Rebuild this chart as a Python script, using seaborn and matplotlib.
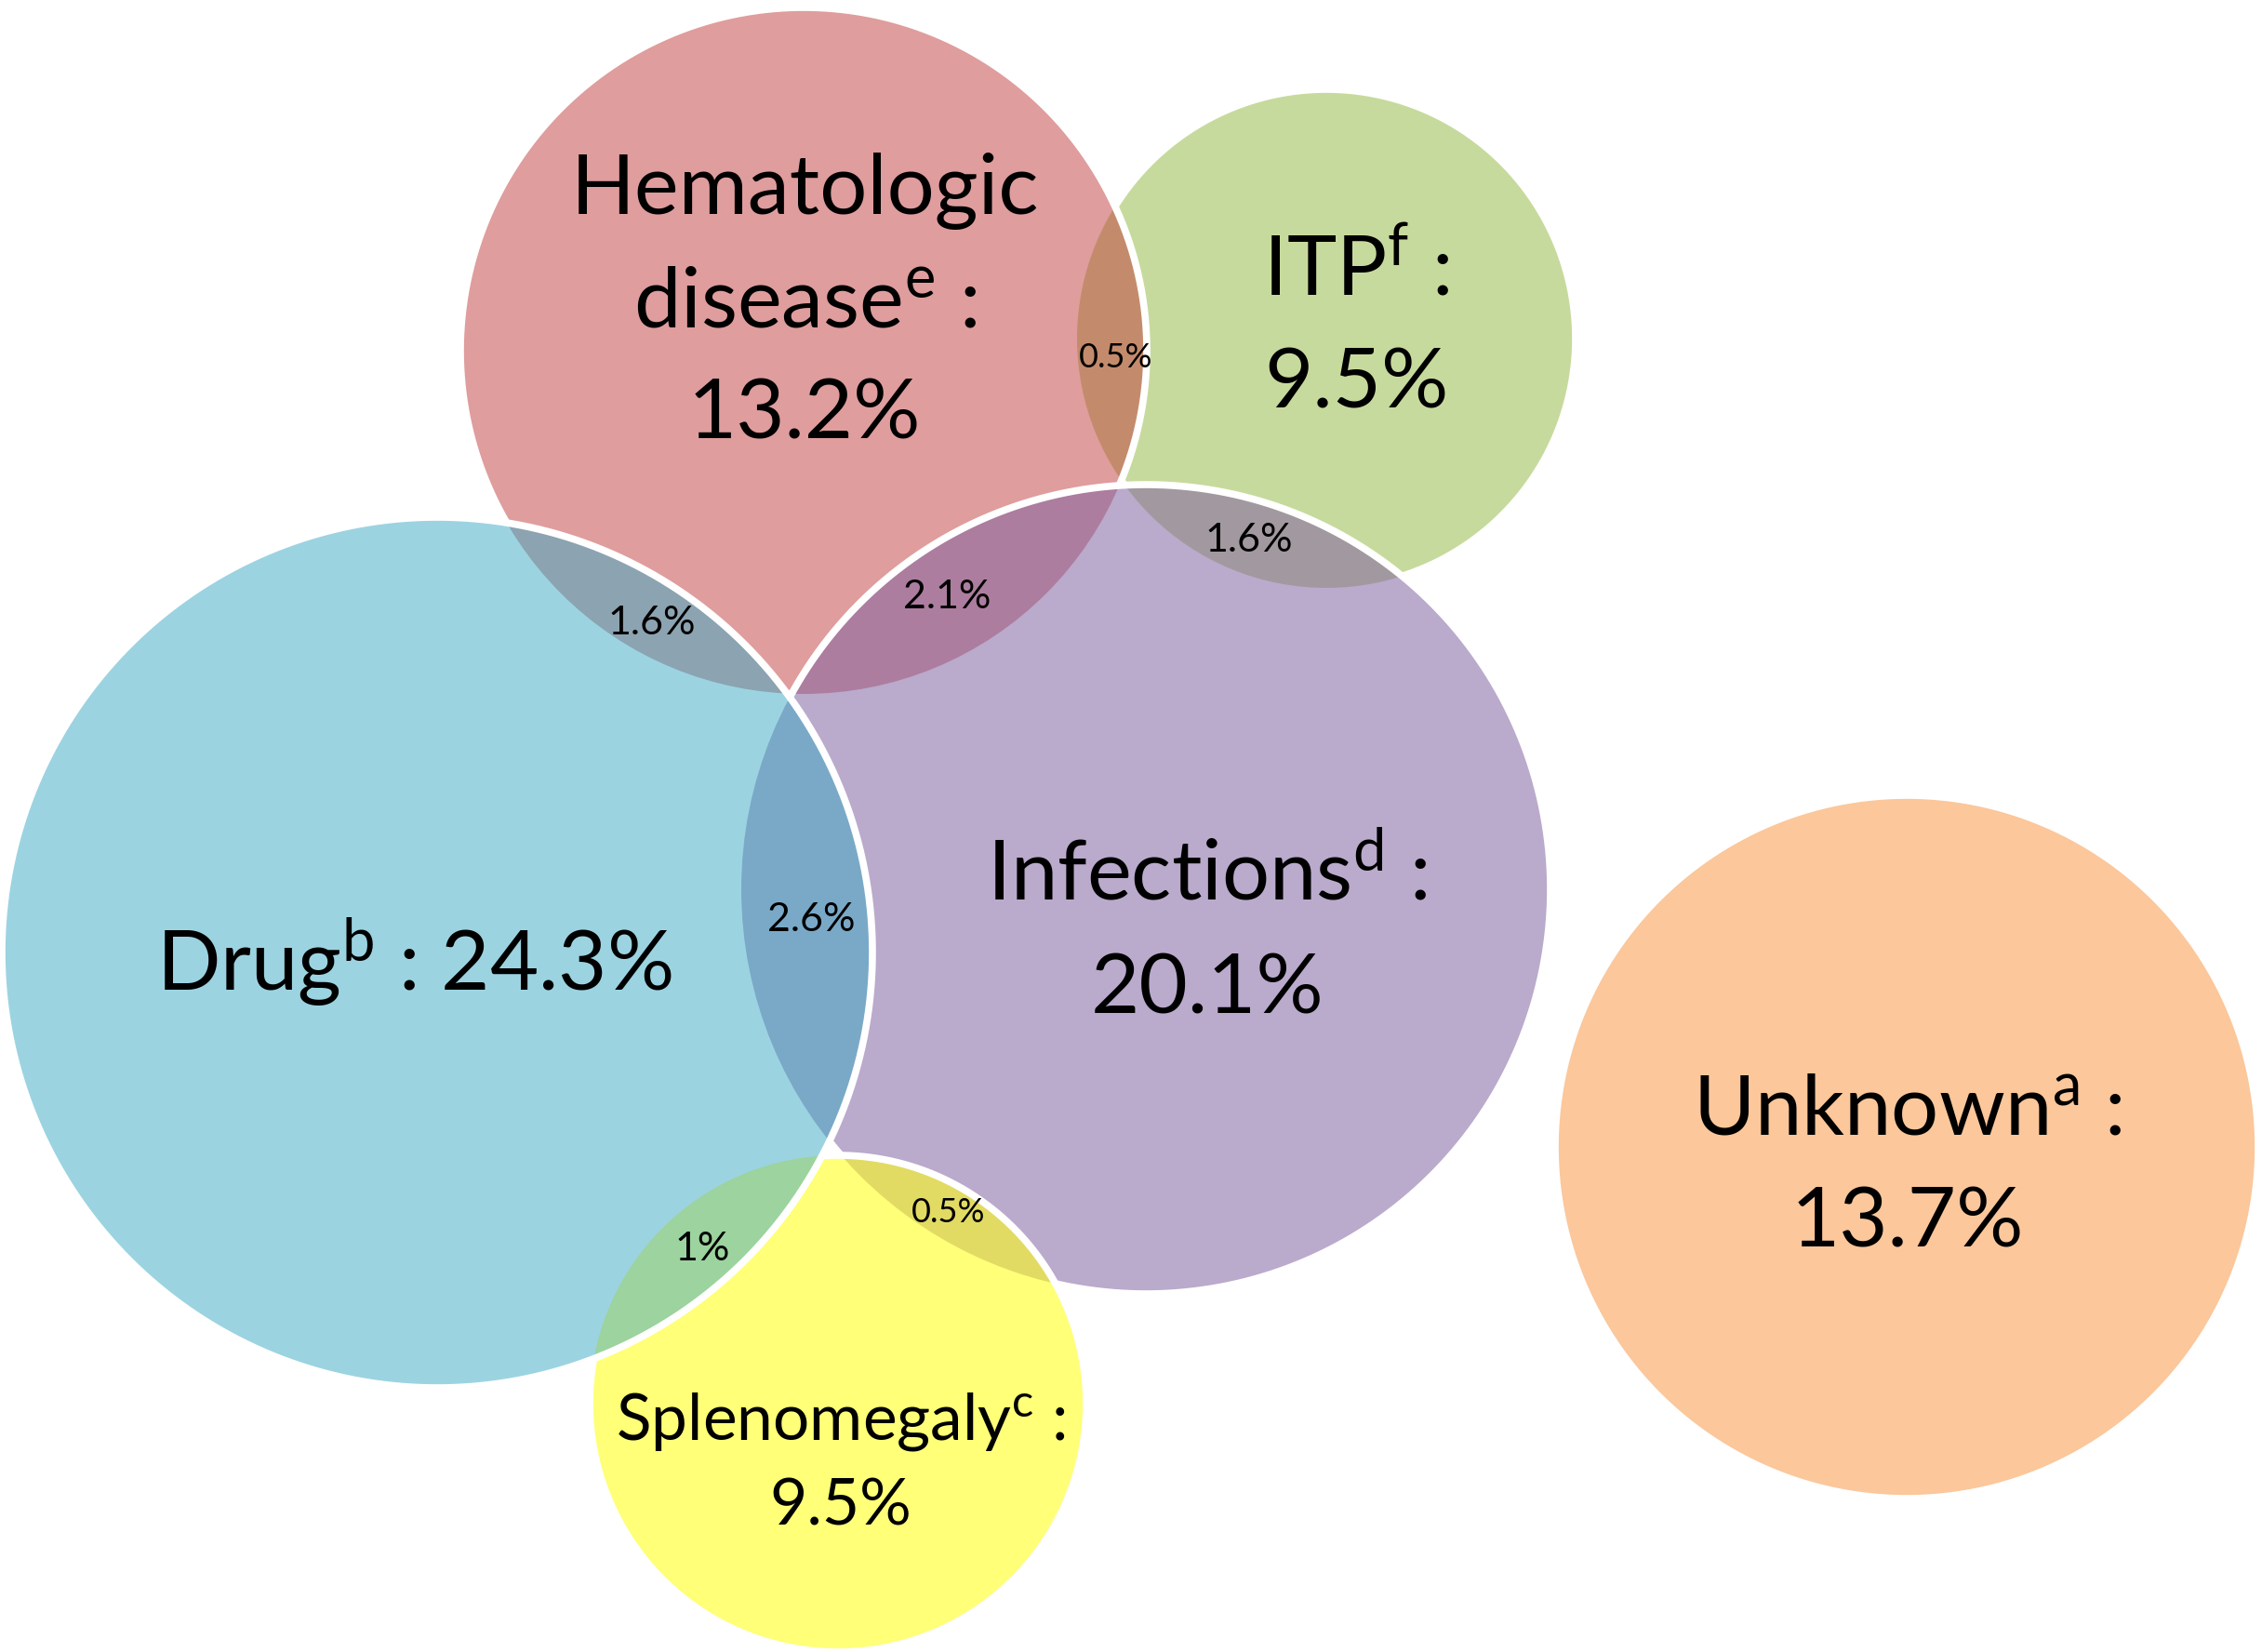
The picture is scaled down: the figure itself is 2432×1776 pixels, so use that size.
import numpy as np
import matplotlib
matplotlib.use("Agg")
import matplotlib.pyplot as plt
import seaborn as sns
from matplotlib.patches import Circle

# ---------------- data ----------------
categories = ["Unknown", "ITP", "Hematologic disease", "Infections", "Splenomegaly", "Drug"]
percents = [13.7, 9.5, 13.2, 20.1, 9.5, 24.3]
footnotes = ["a", "f", "e", "d", "c", "b"]

overlap_pairs = [("Hematologic disease", "ITP"),
                 ("ITP", "Infections"),
                 ("Drug", "Hematologic disease"),
                 ("Hematologic disease", "Infections"),
                 ("Drug", "Infections"),
                 ("Drug", "Splenomegaly"),
                 ("Infections", "Splenomegaly")]
overlap_values = [0.5, 1.6, 1.6, 2.1, 2.6, 1.0, 0.5]

# ---------------- layout / style ----------------
W, H = 2432, 1776
centers = {"Unknown": (2050, 1233), "ITP": (1426, 364), "Hematologic disease": (864, 377),
           "Infections": (1232, 956), "Splenomegaly": (901, 1509), "Drug": (470, 1024)}
radii = {"Unknown": 378, "ITP": 268, "Hematologic disease": 369,
         "Infections": 435, "Splenomegaly": 267, "Drug": 468}
base_colors = {"Unknown": (249, 145, 57), "ITP": (145, 183, 61),
               "Hematologic disease": (193, 61, 61), "Infections": (129, 98, 161),
               "Splenomegaly": (255, 255, 26), "Drug": (59, 169, 197)}
alphas = {"Unknown": 0.5, "ITP": 0.5, "Hematologic disease": 0.5,
          "Infections": 0.54, "Splenomegaly": 0.59, "Drug": 0.5}

# main label lines: (x, [baselines]), font size
label_layout = {
    "Hematologic disease": (865, [230, 351, 471], 65),
    "ITP": (1458, [317, 438], 65),
    "Drug": (445, [1065], 65),
    "Infections": (1298, [968, 1089], 65),
    "Unknown": (2051, [1219, 1340], 65),
    "Splenomegaly": (904, [1547, 1639], 50),
}
overlap_pos = [(1200, 395, 26), (1343, 593, 31), (701, 682, 31), (1018, 654, 31),
               (872, 1001, 31), (755, 1355, 31), (1020, 1314, 26)]

sns.set_theme(style="white")
plt.rcParams["font.family"] = ["Lato", "DejaVu Sans"]
plt.rcParams["mathtext.fontset"] = "custom"
plt.rcParams["mathtext.rm"] = "Lato"
plt.rcParams["mathtext.it"] = "Lato"
plt.rcParams["mathtext.bf"] = "Lato:bold"

fig = plt.figure(figsize=(W / 100, H / 100), dpi=100)
ax = fig.add_axes([0, 0, 1, 1])
ax.set_xlim(0, W)
ax.set_ylim(H, 0)
ax.set_aspect("equal")
ax.axis("off")

order = categories
for i, name in enumerate(order):
    c = np.array(base_colors[name]) / 255.0
    ax.add_patch(Circle(centers[name], radii[name], facecolor=c, edgecolor="none",
                        alpha=alphas[name], zorder=1 + i))

# white outlines, hidden where a later circle covers them
theta = np.linspace(0, 2 * np.pi, 4000)
for i, name in enumerate(order):
    cx, cy = centers[name]
    r = radii[name]
    xs = cx + r * np.cos(theta)
    ys = cy + r * np.sin(theta)
    mask = np.zeros_like(theta, dtype=bool)
    for later in order[i + 1:]:
        lx, ly = centers[later]
        mask |= np.hypot(xs - lx, ys - ly) < radii[later] - 1
    xs = np.where(mask, np.nan, xs)
    ys = np.where(mask, np.nan, ys)
    ax.plot(xs, ys, color="white", lw=5.5, solid_capstyle="butt", zorder=20)

# main labels
for name, pct, fn in zip(categories, percents, footnotes):
    x, baselines, fs = label_layout[name]
    sup = r"$^{\mathrm{%s}}$" % fn
    if name == "Hematologic disease":
        lines = ["Hematologic", "disease" + sup + " :", f"{pct}%"]
    elif name == "Drug":
        lines = ["Drug" + sup + f" : {pct}%"]
    else:
        lines = [name + sup + " :", f"{pct}%"]
    for line, yb in zip(lines, baselines):
        ax.text(x, yb, line, ha="center", va="baseline", fontsize=fs,
                color="black", zorder=30)

# overlap labels
for (a, b), v, (x, y, fs) in zip(overlap_pairs, overlap_values, overlap_pos):
    ax.text(x, y, f"{v:g}%", ha="center", va="baseline", fontsize=fs,
            color="black", zorder=30)

fig.savefig("out.png", dpi=100, facecolor="white")
